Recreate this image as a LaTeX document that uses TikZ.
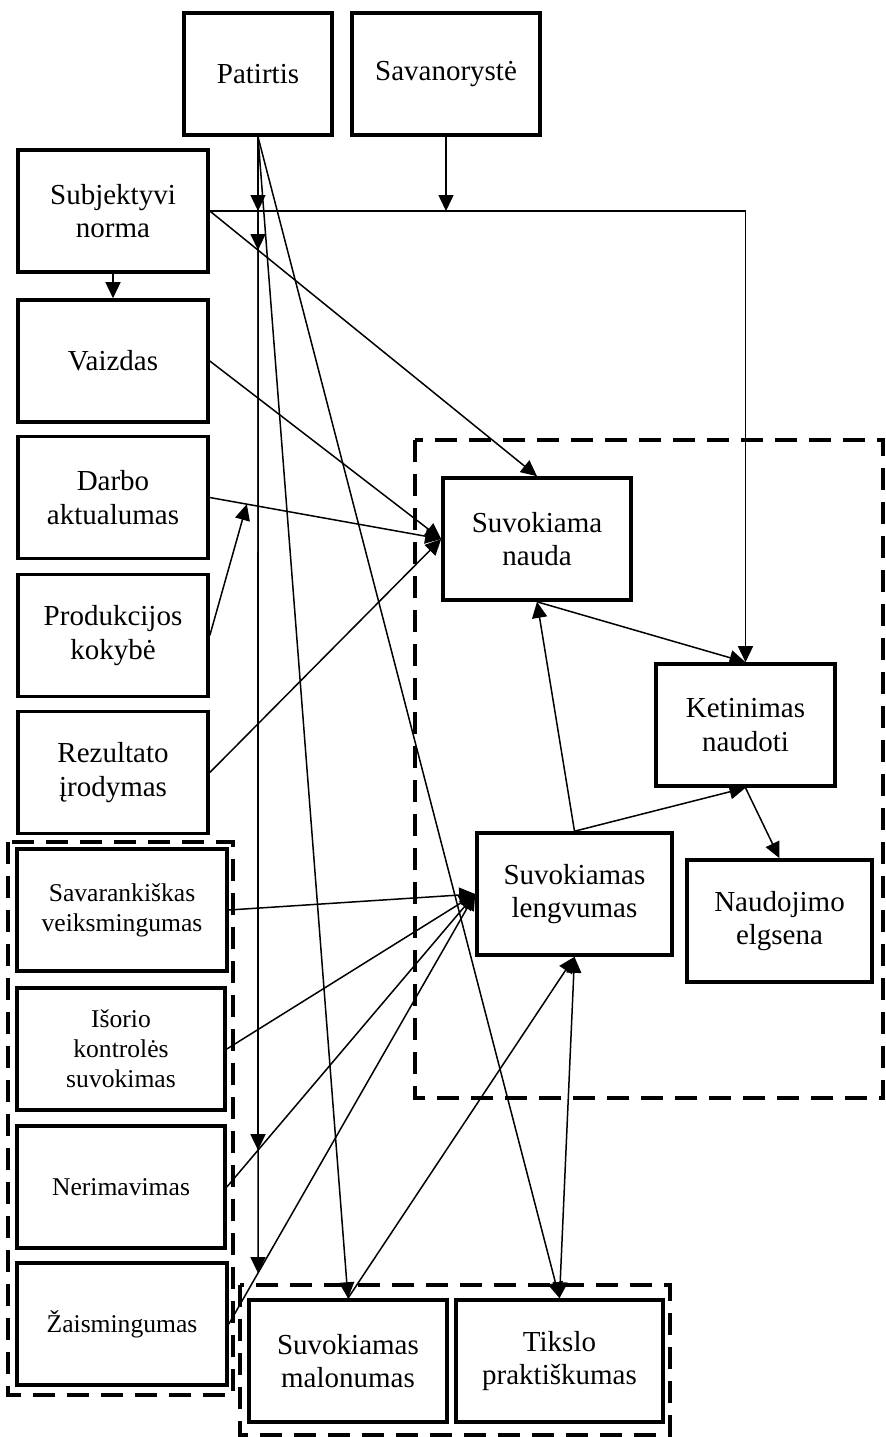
\documentclass[tikz,border=0pt]{standalone}
\usepackage{fontspec}
\setmainfont{Liberation Serif}
\usetikzlibrary{arrows.meta,calc}

\begin{document}
\begin{tikzpicture}[x=0.5pt,y=-0.5pt,every node/.style={font=\fontsize{14.5}{16.7}\selectfont},
  box/.style={draw,line width=1.8pt,align=center,minimum height=61pt,inner sep=2pt},
  sbox/.style={box,font=\fontsize{12.8}{15}\selectfont},
  grp/.style={draw,line width=2pt,dash pattern=on 11pt off 6pt},
  arr/.style={line width=0.75pt,-{Triangle[length=8pt,width=7.5pt]}}]
  \useasboundingbox (0,0) rectangle (885,1437);
  \node[box,minimum width=74pt] (pat) at (258,74) {Patirtis};
  \node[box,minimum width=94pt] (sav) at (446,74) {Savanorystė};
  \node[box,minimum width=95pt] (subj) at (113,211) {Subjektyvi\\norma};
  \node[box,minimum width=95pt] (vaiz) at (113,361) {Vaizdas};
  \node[box,minimum width=95pt] (darb) at (113,497.5) {Darbo\\aktualumas};
  \node[box,minimum width=95pt] (prod) at (113,635.5) {Produkcijos\\kokybė};
  \node[box,minimum width=95pt] (rez) at (113,772.5) {Rezultato\\įrodymas};
  \node[sbox,minimum width=105pt] (sava) at (122,910) {Savarankiškas\\veiksmingumas};
  \node[sbox,minimum width=104pt] (isor) at (121,1049) {Išorio\\kontrolės\\suvokimas};
  \node[sbox,minimum width=104pt] (ner) at (121,1187) {Nerimavimas};
  \node[sbox,minimum width=105pt] (zais) at (122,1324) {Žaismingumas};
  \node[box,minimum width=94pt] (naud) at (537,539) {Suvokiama\\nauda};
  \node[box,minimum width=89.5pt] (ket) at (745.5,725) {Ketinimas\\naudoti};
  \node[box,minimum width=97.5pt] (leng) at (574.5,894) {Suvokiamas\\lengvumas};
  \node[box,minimum width=92.5pt] (elg) at (779.5,921) {Naudojimo\\elgsena};
  \node[box,minimum width=99pt] (mal) at (348,1361) {Suvokiamas\\malonumas};
  \node[box,minimum width=103.5pt] (tiks) at (559.5,1361) {Tikslo\\praktiškumas};
  \draw[grp] (415,440) rectangle (883,1098);
  \draw[grp] (8,842) rectangle (233,1395);
  \draw[grp] (240,1285) rectangle (670,1435);
  \coordinate (pv) at (pat.south |- zais.center);
  \coordinate (m1) at (sav.south |- subj.east);
  \coordinate (m2) at (pat.south |- subj.east);
  \coordinate (m3) at (intersection of subj.east--naud.north and pat.south--pv);
  \coordinate (m4) at (intersection of ner.east--leng.west and pat.south--pv);
  \coordinate (m5) at (intersection of zais.east--leng.west and pat.south--pv);
  \coordinate (m6) at ($(darb.east)!0.16!(naud.west)$);
  \draw[arr] (subj.east) -| (ket.north);
  \draw[arr] (sav.south) -- (m1);
  \draw[arr] (subj.south) -- (vaiz.north);
  \draw[arr] (subj.east) -- (naud.north);
  \draw[arr] (vaiz.east) -- (naud.west);
  \draw[arr] (darb.east) -- (naud.west);
  \draw[arr] (prod.east) -- (m6);
  \draw[arr] (rez.east) -- (naud.west);
  \draw[arr] (naud.south) -- (ket.north);
  \draw[arr] (leng.north) -- (naud.south);
  \draw[arr] (leng.north) -- (ket.south);
  \draw[arr] (ket.south) -- (elg.north);
  \foreach \s in {sava,isor,ner,zais}
    \draw[arr] (\s.east) -- (leng.west);
  \draw[arr] (mal.north) -- (leng.south);
  \draw[arr,{Triangle[length=8pt,width=7.5pt]}-{Triangle[length=8pt,width=7.5pt]}] (tiks.north) -- (leng.south);
  \draw[arr] (pat.south) -- (mal.north);
  \draw[arr] (pat.south) -- (tiks.north);
  \foreach \m in {m2,m3,m4,m5}
    \draw[arr] (pat.south) -- (\m);
\end{tikzpicture}
\end{document}
